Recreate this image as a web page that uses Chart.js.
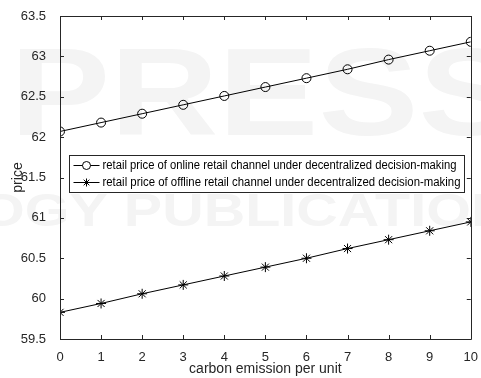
<!DOCTYPE html>
<html><head><meta charset="utf-8">
<script src="https://cdn.jsdelivr.net/npm/chart.js@4/dist/chart.umd.min.js"></script>
<style>html,body{margin:0;padding:0;background:#fff}#w{width:481px;height:378px}</style>
</head><body><div id="w"><canvas id="c"></canvas></div>
<script>
const categories = [0,1,2,3,4,5,6,7,8,9,10];
const onlinePrice = [62.07,62.18,62.29,62.40,62.51,62.62,62.73,62.84,62.96,63.07,63.18];
const offlinePrice = [59.83,59.94,60.06,60.17,60.28,60.39,60.50,60.62,60.73,60.84,60.95];
const xTicks = [0,1,2,3,4,5,6,7,8,9,10];
const yTicks = [59.5,60,60.5,61,61.5,62,62.5,63,63.5];
const labels = ['retail price of online retail channel under decentralized decision-making',
                'retail price of offline retail channel under decentralized decision-making'];

const FONT = 'Liberation Sans, Arial, sans-serif';

const watermark = {
  id:'watermark',
  beforeDraw(chart){
    const ctx = chart.ctx;
    ctx.save();
    ctx.fillStyle = '#f4f4f4';
    ctx.font = 'bold 125px ' + FONT;
    ctx.textBaseline = 'alphabetic';
    ctx.save(); ctx.translate(10,135); ctx.scale(1.2,1); ctx.fillText('PRESS', 0, 0); ctx.restore();
    ctx.font = 'bold 46px ' + FONT;
    ctx.save(); ctx.translate(-20,226); ctx.scale(1.25,1); ctx.fillText('OGY PUBLICATIONS', 0, 0); ctx.restore();
    ctx.restore();
  }
};

const frame = {
  id:'frame',
  afterDatasetsDraw(chart){
    const {ctx, chartArea:a, scales:{x,y}} = chart;
    ctx.save();
    ctx.strokeStyle = '#262626';
    ctx.lineWidth = 1;
    ctx.beginPath();
    ctx.rect(Math.round(a.left)+0.5, Math.round(a.top)+0.5, Math.round(a.right-a.left), Math.round(a.bottom-a.top));
    ctx.stroke();
    const L = 4;
    ctx.beginPath();
    xTicks.forEach(v=>{
      const px = Math.round(x.getPixelForValue(v))+0.5;
      ctx.moveTo(px,a.bottom); ctx.lineTo(px,a.bottom-L);
      ctx.moveTo(px,a.top); ctx.lineTo(px,a.top+L);
    });
    yTicks.forEach(v=>{
      const py = Math.round(y.getPixelForValue(v))+0.5;
      ctx.moveTo(a.left,py); ctx.lineTo(a.left+L,py);
      ctx.moveTo(a.right,py); ctx.lineTo(a.right-L,py);
    });
    ctx.stroke();
    // legend box
    const bx = 69.5, by = 155.5, bw = 395, bh = 37;
    ctx.fillStyle = '#fff';
    ctx.fillRect(bx,by,bw,bh);
    ctx.strokeStyle = '#262626';
    ctx.strokeRect(bx,by,bw,bh);
    ctx.font = '12px ' + FONT;
    ctx.textBaseline = 'middle';
    chart.data.datasets.forEach((ds,i)=>{
      const cy = by + 10 + i*17;
      ctx.strokeStyle = '#000';
      ctx.beginPath(); ctx.moveTo(bx+4,cy); ctx.lineTo(bx+30,cy); ctx.stroke();
      ctx.fillStyle = ds.pointStyle === 'circle' ? '#fff' : '#000';
      Chart.helpers.drawPoint(ctx,{pointStyle:ds.pointStyle,radius:4,rotation:0,borderWidth:1},bx+17,cy);
      ctx.fillStyle = '#000';
      ctx.fillText(ds.label, bx+33, cy+0.5, 358 - (i===0?4:0));
    });
    ctx.restore();
  }
};

new Chart(document.getElementById('c'), {
  type:'line',
  data:{
    datasets:[
      {label:labels[0], data:categories.map((c,i)=>({x:c,y:onlinePrice[i]})), borderColor:'#000', borderWidth:1,
       pointStyle:'circle', pointRadius:4.5, pointBorderColor:'#000', pointBackgroundColor:'rgba(0,0,0,0)', pointBorderWidth:1, tension:0},
      {label:labels[1], data:categories.map((c,i)=>({x:c,y:offlinePrice[i]})), borderColor:'#000', borderWidth:1,
       pointStyle:'star', pointRadius:5, pointBorderColor:'#000', pointBackgroundColor:'#000', pointBorderWidth:1, tension:0}
    ]
  },
  options:{
    responsive:true, maintainAspectRatio:false, animation:false,
    layout:{padding:{top:16,right:10,left:0,bottom:0}},
    plugins:{legend:{display:false}, tooltip:{enabled:false}},
    scales:{
      x:{type:'linear', min:0, max:10,
         afterBuildTicks(s){ s.ticks = xTicks.map(v=>({value:v})); },
         afterFit(s){ s.height = 39; },
         grid:{display:false}, border:{display:false},
         ticks:{color:'#262626', font:{family:FONT,size:13}, padding:3, maxRotation:0, callback:v=>String(v)},
         title:{display:true, text:'carbon emission per unit', color:'#262626', font:{family:FONT,size:14}, padding:{top:0,bottom:0}}},
      y:{type:'linear', min:59.5, max:63.5,
         afterBuildTicks(s){ s.ticks = yTicks.map(v=>({value:v})); },
         afterFit(s){ s.width = 60; },
         grid:{display:false}, border:{display:false},
         ticks:{color:'#262626', font:{family:FONT,size:13}, padding:6, callback:v=>String(v)},
         title:{display:true, text:'price', color:'#262626', font:{family:FONT,size:14}, padding:{top:10,bottom:0}}}
    }
  },
  plugins:[watermark, frame]
});
</script></body></html>
